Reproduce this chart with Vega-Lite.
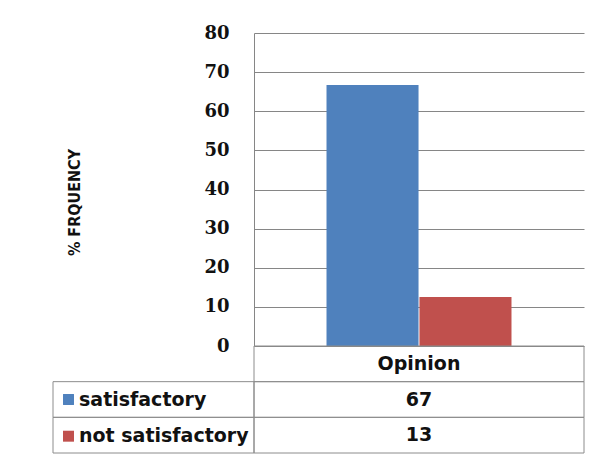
{
  "$schema": "https://vega.github.io/schema/vega-lite/v6.json",
  "padding": {"left": 52, "top": 24, "right": 10, "bottom": 4},
  "background": "white",
  "config": {"view": {"stroke": null}, "font": "DejaVu Sans"},
  "datasets": {
    "opinion": [
      {"group": "Opinion", "series": "satisfactory", "value": 66.7},
      {"group": "Opinion", "series": "not satisfactory", "value": 12.5}
    ]
  },
  "columns": 2,
  "spacing": 0,
  "bounds": "flush",
  "resolve": {
    "scale": {"color": "independent", "x": "independent", "y": "independent"},
    "legend": {"color": "independent"}
  },
  "concat": [
    {
      "width": 201,
      "height": 313,
      "data": {"values": []},
      "mark": {"type": "text"},
      "encoding": {}
    },
    {
      "width": 330,
      "height": 313,
      "data": {"name": "opinion"},
      "mark": {"type": "bar"},
      "encoding": {
        "x": {
          "field": "group",
          "type": "nominal",
          "scale": {"paddingInner": 0, "paddingOuter": 0.392},
          "axis": null
        },
        "xOffset": {
          "field": "series",
          "type": "nominal",
          "sort": ["satisfactory", "not satisfactory"],
          "scale": {"paddingInner": 0.01, "paddingOuter": 0}
        },
        "y": {
          "field": "value",
          "type": "quantitative",
          "scale": {"domain": [0, 80]},
          "axis": {
            "title": "% FRQUENCY",
            "values": [0, 10, 20, 30, 40, 50, 60, 70, 80],
            "grid": true,
            "gridColor": "#868686",
            "gridOpacity": 1,
            "domainColor": "#868686",
            "ticks": false,
            "labelPadding": 25,
            "labelFont": "DejaVu Serif",
            "labelFontWeight": "bold",
            "labelFontSize": 18,
            "labelColor": "#111111",
            "titleFont": "'Liberation Sans Narrow', 'DejaVu Sans Condensed', sans-serif",
            "titleFontWeight": "bold",
            "titleFontSize": 16,
            "titleColor": "#111111",
            "titlePadding": 121,
            "titleY": 169
          }
        },
        "color": {
          "field": "series",
          "type": "nominal",
          "sort": ["satisfactory", "not satisfactory"],
          "scale": {"range": ["#4F81BD", "#C0504D"]},
          "legend": {
            "orient": "none",
            "legendX": -195,
            "legendY": 357,
            "title": null,
            "padding": 0,
            "symbolType": "square",
            "symbolSize": 120,
            "symbolStrokeWidth": 0,
            "labelFont": "DejaVu Sans",
            "labelFontWeight": "bold",
            "labelFontSize": 19,
            "labelColor": "#111111",
            "labelLimit": 400,
            "labelOffset": 1,
            "rowPadding": 16.7
          }
        }
      }
    },
    {
      "width": 201,
      "height": 107,
      "data": {"name": "opinion"},
      "mark": {"type": "rect", "filled": false, "stroke": "#8c8c8c", "strokeWidth": 1},
      "encoding": {
        "y": {
          "field": "series",
          "type": "nominal",
          "scale": {"domain": ["Opinion", "satisfactory", "not satisfactory"], "paddingInner": 0, "paddingOuter": 0},
          "axis": null
        }
      }
    },
    {
      "width": 330,
      "height": 107,
      "layer": [
        {
          "data": {"name": "opinion"},
          "mark": {"type": "rect", "filled": false, "stroke": "#8c8c8c", "strokeWidth": 1},
          "encoding": {
            "y": {
              "field": "series",
              "type": "nominal",
              "scale": {"domain": ["Opinion", "satisfactory", "not satisfactory"], "paddingInner": 0, "paddingOuter": 0},
              "axis": null
            }
          }
        },
        {
          "data": {"name": "opinion"},
          "transform": [{"aggregate": [{"op": "count", "as": "n"}], "groupby": ["group"]}],
          "mark": {"type": "rect", "filled": false, "stroke": "#8c8c8c", "strokeWidth": 1},
          "encoding": {
            "y": {"field": "group", "type": "nominal", "axis": null}
          }
        },
        {
          "data": {"name": "opinion"},
          "mark": {"type": "text", "font": "DejaVu Sans", "fontWeight": "bold", "fontSize": 19, "color": "#111111"},
          "encoding": {
            "y": {"field": "series", "type": "nominal", "axis": null},
            "text": {"field": "value", "type": "quantitative", "format": ".0f"}
          }
        },
        {
          "data": {"name": "opinion"},
          "transform": [{"aggregate": [{"op": "count", "as": "n"}], "groupby": ["group"]}],
          "mark": {"type": "text", "font": "DejaVu Sans", "fontWeight": "bold", "fontSize": 19, "color": "#111111"},
          "encoding": {
            "y": {"field": "group", "type": "nominal", "axis": null},
            "text": {"field": "group", "type": "nominal"}
          }
        }
      ]
    }
  ]
}
